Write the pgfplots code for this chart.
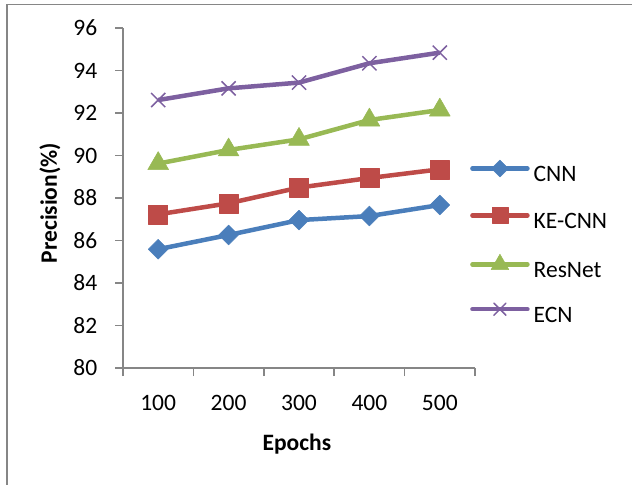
\documentclass[border=0pt]{standalone}
\usepackage{pgfplots}
\pgfplotsset{compat=1.18}
\usepackage{fontspec}
\setmainfont{Carlito}
\definecolor{cnn}{RGB}{74,126,187}
\definecolor{kecnn}{RGB}{190,75,72}
\definecolor{resnet}{RGB}{152,185,84}
\definecolor{ecn}{RGB}{125,96,160}
\definecolor{axisgray}{RGB}{134,134,134}
\begin{document}
\fontsize{23.5bp}{28bp}\selectfont
\begin{tikzpicture}
\useasboundingbox (0,0) rectangle (632bp,485bp);
\draw[color=axisgray, line width=1.5bp] (7bp,0) -- (7bp,480.5bp) -- (632bp,480.5bp);
\begin{axis}[
  at={(123bp,117bp)}, anchor=south west,
  scale only axis, width=352bp, height=340bp,
  xmin=0.5, xmax=5.5, ymin=80, ymax=96,
  axis lines=left,
  axis line style={axisgray, line width=1.5bp, -},
  xtick={1,...,5}, xticklabels={100,200,300,400,500},
  minor xtick={0.5,1.5,...,5.5},
  ytick={80,82,...,96},
  tick align=outside,
  major tick length=8bp, minor tick length=8bp,
  tick style={axisgray, line width=1.5bp},
  major x tick style={draw=none},
  /pgf/number format/assume math mode=true,
  ticklabel style={font=\fontsize{23.5bp}{28bp}\selectfont, text=black, inner sep=0pt},
  yticklabel style={anchor=east, xshift=-17.5bp},
  xticklabel style={anchor=north, yshift=-19bp},
  clip=false,
  xlabel={Epochs}, ylabel={Precision(\%)},
  label style={font=\fontsize{23.5bp}{28bp}\selectfont\bfseries},
  xlabel style={at={(axis description cs:0.494,-0.243)}, anchor=base},
  ylabel style={at={(axis description cs:-0.188,0.485)}, anchor=base},
  legend style={at={(0.9858,0.612)}, anchor=north west, draw=none, fill=none,
    inner sep=0pt, row sep=19.8bp,
    font=\fontsize{23.5bp}{28bp}\selectfont,
    nodes={inner sep=0pt, text height=17bp, text depth=6bp},
    /tikz/every odd column/.append style={column sep=4bp}},
  legend cell align=left,
  legend image code/.code={\draw[#1, line cap=round, mark repeat=2, mark phase=2, every mark/.append style={scale=0.85}] plot coordinates {(0bp,7.5bp) (27.5bp,7.5bp) (55bp,7.5bp)};},
]
\addplot[cnn, line width=4.5bp, line join=round, mark=square*, mark size=7bp,
  mark options={rotate=45, solid, line width=0.5bp, fill=cnn}]
  coordinates {(1,85.59)(2,86.26)(3,86.96)(4,87.15)(5,87.67)};
\addlegendentry{CNN}
\addplot[kecnn, line width=4.5bp, line join=round, mark=square*, mark size=9.5bp,
  mark options={solid, line width=0.5bp, fill=kecnn}]
  coordinates {(1,87.23)(2,87.75)(3,88.49)(4,88.94)(5,89.35)};
\addlegendentry{KE-CNN}
\addplot[resnet, line width=4.5bp, line join=round, mark=triangle*, mark size=12bp,
  mark options={solid, line width=0.5bp, fill=resnet}]
  coordinates {(1,89.62)(2,90.26)(3,90.76)(4,91.67)(5,92.14)};
\addlegendentry{ResNet}
\addplot[ecn, line width=4.5bp, line join=round, mark=x, mark size=10bp,
  mark options={solid, line width=1.5bp}]
  coordinates {(1,92.61)(2,93.16)(3,93.43)(4,94.34)(5,94.84)};
\addlegendentry{ECN}
\end{axis}
\end{tikzpicture}
\end{document}
